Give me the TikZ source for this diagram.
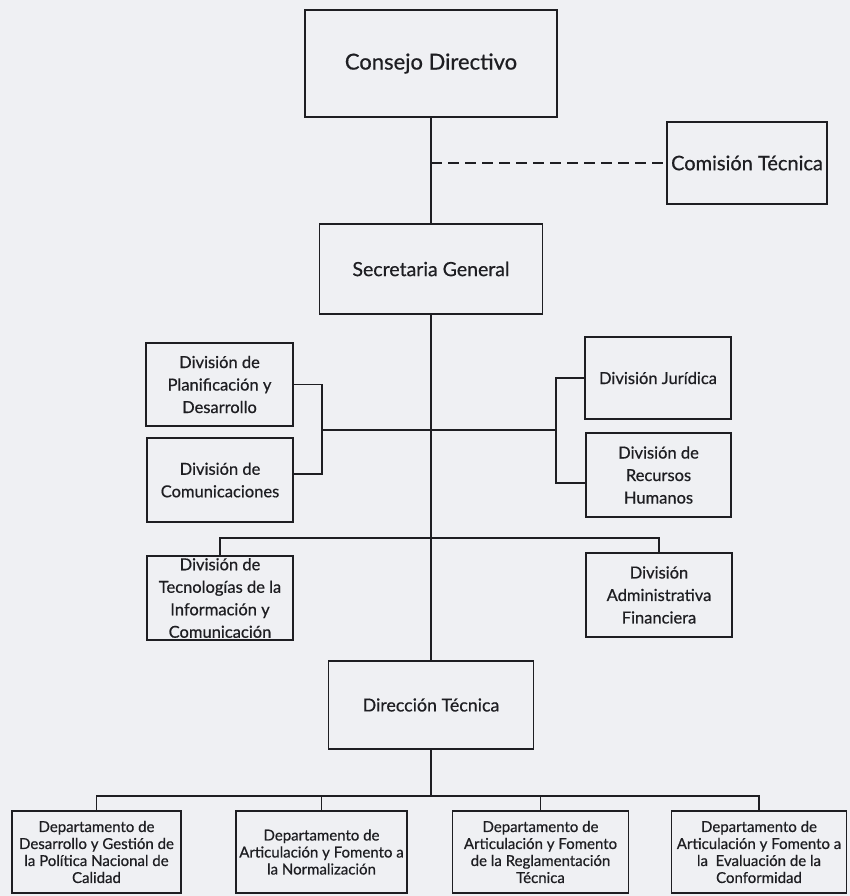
\documentclass[tikz,border=0pt]{standalone}
\usepackage{fontspec}
\setmainfont{Lato}[UprightFeatures={FakeBold=0.6}]
\definecolor{paper}{RGB}{239,240,243}
\definecolor{ink}{RGB}{30,30,34}
\begin{document}
\begin{tikzpicture}[x=1pt,y=-1pt,
  box/.style={draw=ink, line width=1.4pt, inner sep=0pt, align=center, text=ink},
  big/.style={font=\fontsize{22}{25}\selectfont},
  mid/.style={font=\fontsize{19.5}{23}\selectfont},
  divtext/.style={font=\fontsize{16.5}{22.5}\selectfont},
  deptext/.style={font=\fontsize{15}{17}\selectfont},
  conn/.style={draw=ink, line width=1.2pt},
  dashconn/.style={conn, line width=1.5pt, dash pattern=on 11pt off 6pt}]
\fill[paper] (0,0) rectangle (850,896);
\useasboundingbox (0,0) rectangle (850,896);

% top level
\node[box, big, minimum width=252pt, minimum height=107pt] (cd) at (431,63.5) {Consejo Directivo};
\node[box, font=\fontsize{20}{23}\selectfont, minimum width=160pt, minimum height=82pt] (ct) at (747,163) {Comisión Técnica};
\node[box, mid, minimum width=223pt, minimum height=90pt] (sg) at (431,269) {Secretaria General};

% divisions
\node[box, divtext, minimum width=147pt, minimum height=83pt] (dp) at (219.5,384.5) {División de\\Planificación y\\Desarrollo};
\node[box, divtext, minimum width=146pt, minimum height=84pt] (dc) at (220,480) {División de\\Comunicaciones};
\node[box, divtext, minimum width=146pt, minimum height=82pt] (dj) at (658,378) {División Jurídica};
\node[box, divtext, minimum width=145pt, minimum height=84pt] (dr) at (658.5,475) {División de\\Recursos\\Humanos};
\node[box, divtext, minimum width=146pt, minimum height=84pt] (dt) at (220,598) {División de\\Tecnologías de la\\Información y\\Comunicación};
\node[box, divtext, minimum width=146pt, minimum height=84pt] (da) at (659,595) {División\\Administrativa\\Financiera};

% technical direction
\node[box, font=\fontsize{17.8}{21}\selectfont, minimum width=205pt, minimum height=88pt] (dir) at (431,705) {Dirección Técnica};

% departments
\node[box, deptext, minimum width=169pt, minimum height=82pt] (d1) at (96.5,852) {Departamento de\\Desarrollo y Gestión de\\la Política Nacional de\\Calidad};
\node[box, deptext, minimum width=171pt, minimum height=82pt] (d2) at (321.5,852) {Departamento de\\Articulación y Fomento a\\la Normalización};
\node[box, deptext, minimum width=176pt, minimum height=82pt] (d3) at (540.5,852) {Departamento de\\Articulación y Fomento\\de la Reglamentación\\Técnica};
\node[box, deptext, minimum width=175pt, minimum height=82pt] (d4) at (759,852) {Departamento de\\Articulación y Fomento a\\la\ \ Evaluación de la\\Conformidad};

% helper coordinates
\coordinate (D) at (431,163);
\coordinate (L) at (322,430);
\coordinate (R) at (556,430);
\coordinate (M) at (431,538);
\coordinate (B) at (431,796);

% connectors
\draw[conn] (cd.south) -- (sg.north);
\draw[dashconn] (D) -- (ct.west);
\draw[conn] (sg.south) -- (dir.north);
\draw[conn] (dp.east) -| (L) |- ([yshift=6pt]dc.east);
\draw[conn] (L) -- (R);
\draw[conn] (dj.west) -| (R) |- ([yshift=-8pt]dr.west);
\draw[conn] (dt.north) |- (M) -| (da.north);
\draw[conn] (dir.south) -- (B);
\draw[conn] (d1.north) |- (B) -| (d4.north);
\draw[conn] (d2.north) -- (d2.north |- B);
\draw[conn] (d3.north) -- (d3.north |- B);
\end{tikzpicture}
\end{document}
